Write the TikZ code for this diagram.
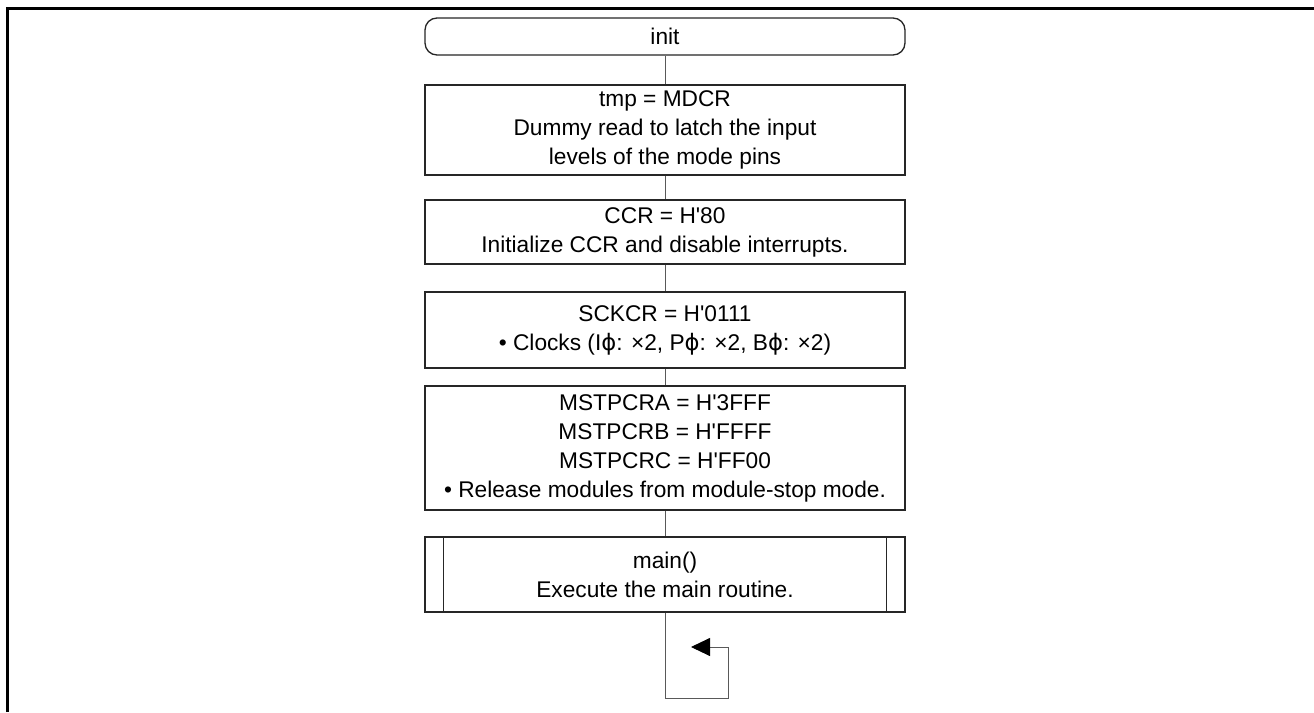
\documentclass[tikz,border=0pt]{standalone}
\usepackage{fontspec}
\setmainfont{Liberation Sans}[Ligatures=TeXOff]
\newfontfamily\dvs{DejaVu Sans}
\usetikzlibrary{arrows.meta}
\newcommand{\ph}{{\dvs\symbol{"03D5}}}
\begin{document}
\begin{tikzpicture}[x=1pt,y=-1pt,
  font=\fontsize{22.7}{29}\selectfont,
  box/.style={draw=black!85,line width=1.3pt,minimum width=480pt,inner sep=0pt,align=center,fill=white},
  conn/.style={draw=black!65,line width=0.9pt},
  frame/.style={line width=3pt,black}]
\useasboundingbox (0,0) rectangle (1314,712);
\draw[frame] (7,712) -- (7,8) -- (1314,8);
\node[box,rounded corners=12pt,minimum height=37pt] (init) at (665,36.5) {init};
\node[box,minimum height=90pt] (b1) at (665,130) {tmp = MDCR\\Dummy read to latch the input\\levels of the mode pins};
\node[box,minimum height=64pt] (b2) at (665,232) {CCR = H'80\\Initialize CCR and disable interrupts.};
\node[box,minimum height=76pt] (b3) at (665,330) {SCKCR = H'0111\\\textbullet{} Clocks (I\ph: ×2, P\ph: ×2, B\ph: ×2)};
\node[box,minimum height=124pt] (b4) at (665,448) {MSTPCRA = H'3FFF\\MSTPCRB = H'FFFF\\MSTPCRC = H'FF00\\\textbullet{} Release modules from module-stop mode.};
\node[box,minimum height=75pt] (b5) at (665,574.5) {main()\\Execute the main routine.};
\draw[box] ([xshift=19pt]b5.north west) -- ([xshift=19pt]b5.south west);
\draw[box] ([xshift=-19pt]b5.north east) -- ([xshift=-19pt]b5.south east);
\draw[conn] (init.south) -- (b1.north);
\draw[conn] (b1.south) -- (b2.north);
\draw[conn] (b2.south) -- (b3.north);
\draw[conn] (b3.south) -- (b4.north);
\draw[conn] (b4.south) -- (b5.north);
\coordinate (l1) at (665,698);
\coordinate (l2) at (728,698);
\coordinate (l3) at (728,647);
\coordinate (l4) at (691,647);
\draw[conn,-{Triangle[length=19pt,width=18pt,black]}] (b5.south) -- (l1) -- (l2) -- (l3) -- (l4);
\end{tikzpicture}
\end{document}
